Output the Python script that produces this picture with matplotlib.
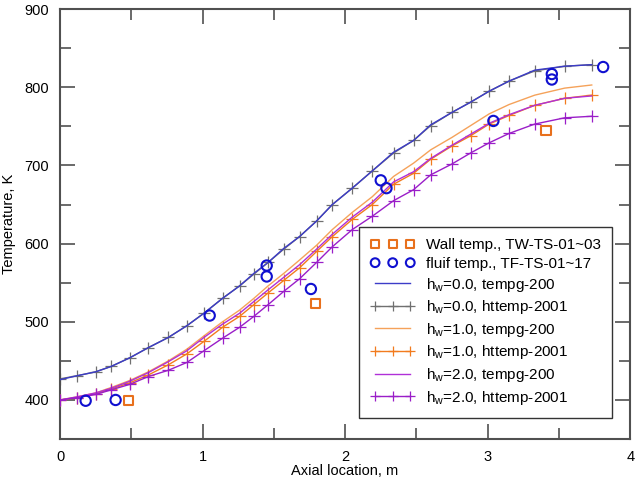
import matplotlib
matplotlib.use("Agg")
import matplotlib.pyplot as plt
from matplotlib.ticker import MultipleLocator

plt.rcParams['font.family'] = ['Liberation Sans', 'DejaVu Sans']
plt.rcParams['mathtext.default'] = 'regular'

# simulation nodes (axial location, m)
x_sim = [0, 0.12, 0.25, 0.36, 0.49, 0.62, 0.76, 0.89, 1.01, 1.14, 1.26, 1.36, 1.46, 1.57,
         1.68, 1.80, 1.91, 2.05, 2.19, 2.34, 2.48, 2.60, 2.75, 2.88, 3.01, 3.15, 3.33, 3.54, 3.73]

hw0_tempg = [426, 431, 436, 443, 454, 467, 480, 495, 511, 530, 546, 562, 576, 594,
             609, 629, 650, 671, 693, 717, 732, 752, 768, 781, 795, 808, 822, 827, 829]
hw0_httemp = [427, 431, 436, 443, 454, 467, 480, 495, 511, 530, 546, 561, 576, 593,
              609, 629, 650, 671, 693, 716, 732, 751, 768, 781, 795, 808, 821, 827, 829]
hw1_tempg = [400, 404, 409, 416, 425, 436, 450, 465, 482, 500, 515, 530, 546, 562,
             579, 598, 618, 640, 660, 686, 703, 720, 736, 751, 766, 778, 790, 799, 803]
hw1_httemp = [400, 403, 408, 414, 422, 432, 445, 459, 475, 493, 507, 522, 537, 553,
              569, 590, 609, 631, 650, 676, 690, 708, 725, 738, 753, 764, 777, 786, 790]
hw2_tempg = [400, 404, 409, 415, 424, 435, 449, 463, 480, 497, 511, 526, 541, 557,
             573, 593, 612, 634, 653, 679, 692, 709, 726, 740, 754, 765, 777, 786, 789]
hw2_httemp = [400, 403, 407, 413, 420, 430, 438, 448, 463, 479, 493, 507, 522, 539,
              555, 576, 596, 618, 635, 655, 669, 688, 702, 716, 729, 741, 753, 761, 763]

# measurements
x_wall = [0.48, 1.79, 3.41]
t_wall = [399, 523, 745]
x_fluid = [0.18, 0.39, 1.05, 1.45, 1.45, 1.76, 2.25, 2.29, 3.04, 3.45, 3.45, 3.81]
t_fluid = [399, 400, 508, 572, 558, 542, 681, 671, 757, 817, 810, 826]

fig = plt.figure(figsize=(6.35, 4.83), dpi=100)
ax = fig.add_axes([0.0945, 0.091, 0.898, 0.890])

ax.scatter(x_wall, t_wall, marker='s', s=45, facecolors='none', edgecolors='#E8701C',
           linewidths=1.5, label='Wall temp., TW-TS-01~03', zorder=5)
ax.scatter(x_fluid, t_fluid, marker='o', s=55, facecolors='none', edgecolors='#1010D0',
           linewidths=1.5, label='fluif temp., TF-TS-01~17', zorder=5)

ax.plot(x_sim, hw0_tempg, color='#3C3CC8', lw=1.0, label='h$_w$=0.0, tempg-200', zorder=3)
ax.plot(x_sim, hw0_httemp, color='#707070', lw=1.0, marker='+', ms=8, mew=0.9,
        label='h$_w$=0.0, httemp-2001', zorder=2)
ax.plot(x_sim, hw1_tempg, color='#F5A25A', lw=1.0, label='h$_w$=1.0, tempg-200', zorder=3)
ax.plot(x_sim, hw1_httemp, color='#F27B1E', lw=1.0, marker='+', ms=8, mew=0.9,
        label='h$_w$=1.0, httemp-2001', zorder=3)
ax.plot(x_sim, hw2_tempg, color='#B030D8', lw=1.0, label='h$_w$=2.0, tempg-200', zorder=3)
ax.plot(x_sim, hw2_httemp, color='#9A1EC8', lw=1.0, marker='+', ms=8, mew=0.9,
        label='h$_w$=2.0, httemp-2001', zorder=3)

ax.set_xlim(0, 4)
ax.set_ylim(350, 900)
ax.xaxis.set_major_locator(MultipleLocator(1))
ax.xaxis.set_minor_locator(MultipleLocator(0.5))
ax.yaxis.set_major_locator(MultipleLocator(100))
ax.yaxis.set_minor_locator(MultipleLocator(50))
ax.tick_params(which='both', direction='in', top=True, right=True, color='#505050',
               labelsize=10.5, width=1.2)
ax.tick_params(which='major', length=11, pad=8)
ax.tick_params(which='minor', length=8)
for s in ax.spines.values():
    s.set_color('#505050')
    s.set_linewidth(1.5)

ax.set_xlabel('Axial location, m', fontsize=10.5, labelpad=0)
ax.set_ylabel('Temperature, K', fontsize=10.5, labelpad=6)

leg = ax.legend(loc='lower right', bbox_to_anchor=(0.968, 0.049), borderaxespad=0,
                numpoints=3, scatterpoints=3, scatteryoffsets=[0.5], markerscale=0.85,
                fontsize=11, frameon=True, fancybox=False, edgecolor='black',
                handlelength=2.9, labelspacing=0.3, borderpad=0.75, handletextpad=0.7)
leg.get_frame().set_linewidth(1.0)

fig.savefig('out.png', dpi=100)
